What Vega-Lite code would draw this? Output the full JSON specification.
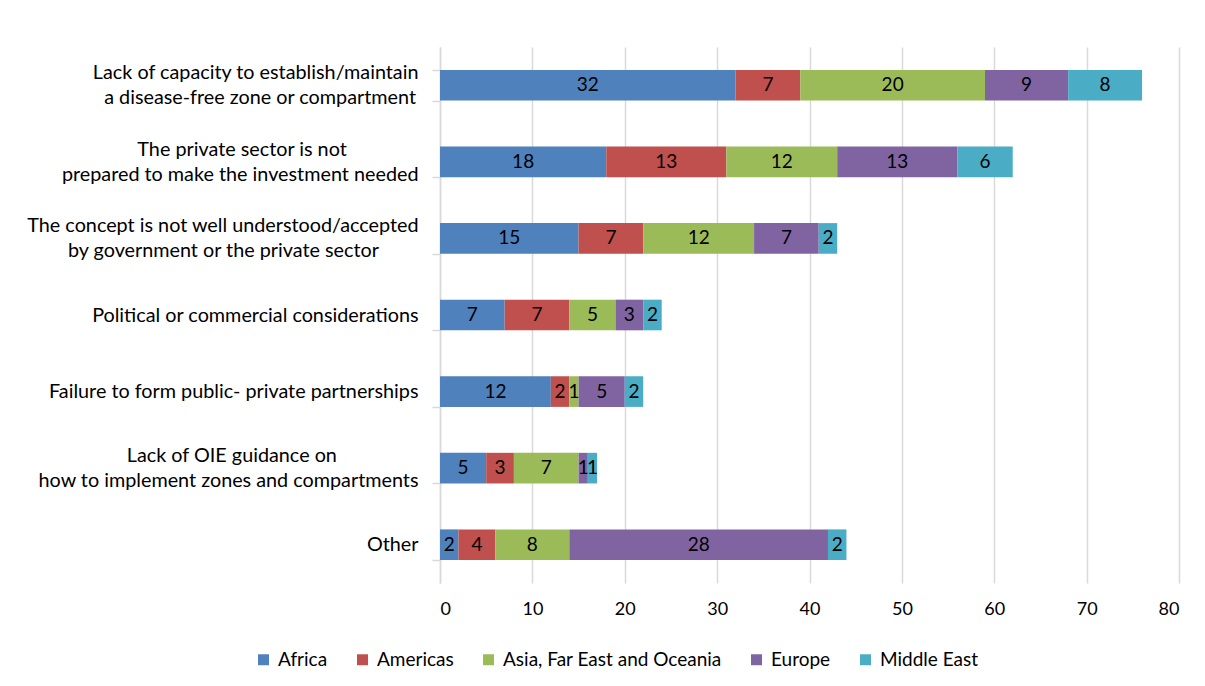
{
  "$schema": "https://vega.github.io/schema/vega-lite/v6.json",
  "width": 739,
  "height": 536,
  "autosize": {"type": "none"},
  "padding": {"left": 440, "top": 47, "right": 26, "bottom": 103},
  "background": "white",
  "config": {"view": {"stroke": null}, "font": "Lato"},
  "data": {"values": [
    {"cat": "Lack of capacity to establish/maintain|a disease-free zone or compartment\u2009\u200B", "region": "Africa", "o": 1, "v": 32},
    {"cat": "Lack of capacity to establish/maintain|a disease-free zone or compartment\u2009\u200B", "region": "Americas", "o": 2, "v": 7},
    {"cat": "Lack of capacity to establish/maintain|a disease-free zone or compartment\u2009\u200B", "region": "Asia, Far East and Oceania", "o": 3, "v": 20},
    {"cat": "Lack of capacity to establish/maintain|a disease-free zone or compartment\u2009\u200B", "region": "Europe", "o": 4, "v": 9},
    {"cat": "Lack of capacity to establish/maintain|a disease-free zone or compartment\u2009\u200B", "region": "Middle East", "o": 5, "v": 8},
    {"cat": "The private sector is not\u2002\u2002\u2002\u2002\u2002\u2002\u2002\u2009\u200B|prepared to make the investment needed", "region": "Africa", "o": 1, "v": 18},
    {"cat": "The private sector is not\u2002\u2002\u2002\u2002\u2002\u2002\u2002\u2009\u200B|prepared to make the investment needed", "region": "Americas", "o": 2, "v": 13},
    {"cat": "The private sector is not\u2002\u2002\u2002\u2002\u2002\u2002\u2002\u2009\u200B|prepared to make the investment needed", "region": "Asia, Far East and Oceania", "o": 3, "v": 12},
    {"cat": "The private sector is not\u2002\u2002\u2002\u2002\u2002\u2002\u2002\u2009\u200B|prepared to make the investment needed", "region": "Europe", "o": 4, "v": 13},
    {"cat": "The private sector is not\u2002\u2002\u2002\u2002\u2002\u2002\u2002\u2009\u200B|prepared to make the investment needed", "region": "Middle East", "o": 5, "v": 6},
    {"cat": "The concept is not well understood/accepted|by government or the private sector\u2002\u2002\u2002\u2002\u200B", "region": "Africa", "o": 1, "v": 15},
    {"cat": "The concept is not well understood/accepted|by government or the private sector\u2002\u2002\u2002\u2002\u200B", "region": "Americas", "o": 2, "v": 7},
    {"cat": "The concept is not well understood/accepted|by government or the private sector\u2002\u2002\u2002\u2002\u200B", "region": "Asia, Far East and Oceania", "o": 3, "v": 12},
    {"cat": "The concept is not well understood/accepted|by government or the private sector\u2002\u2002\u2002\u2002\u200B", "region": "Europe", "o": 4, "v": 7},
    {"cat": "The concept is not well understood/accepted|by government or the private sector\u2002\u2002\u2002\u2002\u200B", "region": "Middle East", "o": 5, "v": 2},
    {"cat": "Political or commercial considerations", "region": "Africa", "o": 1, "v": 7},
    {"cat": "Political or commercial considerations", "region": "Americas", "o": 2, "v": 7},
    {"cat": "Political or commercial considerations", "region": "Asia, Far East and Oceania", "o": 3, "v": 5},
    {"cat": "Political or commercial considerations", "region": "Europe", "o": 4, "v": 3},
    {"cat": "Political or commercial considerations", "region": "Middle East", "o": 5, "v": 2},
    {"cat": "Failure to form public- private partnerships", "region": "Africa", "o": 1, "v": 12},
    {"cat": "Failure to form public- private partnerships", "region": "Americas", "o": 2, "v": 2},
    {"cat": "Failure to form public- private partnerships", "region": "Asia, Far East and Oceania", "o": 3, "v": 1},
    {"cat": "Failure to form public- private partnerships", "region": "Europe", "o": 4, "v": 5},
    {"cat": "Failure to form public- private partnerships", "region": "Middle East", "o": 5, "v": 2},
    {"cat": "Lack of OIE guidance on\u2002\u2002\u2002\u2002\u2002\u2002\u2002\u2002\u2009\u200B|how to implement zones and compartments", "region": "Africa", "o": 1, "v": 5},
    {"cat": "Lack of OIE guidance on\u2002\u2002\u2002\u2002\u2002\u2002\u2002\u2002\u2009\u200B|how to implement zones and compartments", "region": "Americas", "o": 2, "v": 3},
    {"cat": "Lack of OIE guidance on\u2002\u2002\u2002\u2002\u2002\u2002\u2002\u2002\u2009\u200B|how to implement zones and compartments", "region": "Asia, Far East and Oceania", "o": 3, "v": 7},
    {"cat": "Lack of OIE guidance on\u2002\u2002\u2002\u2002\u2002\u2002\u2002\u2002\u2009\u200B|how to implement zones and compartments", "region": "Europe", "o": 4, "v": 1},
    {"cat": "Lack of OIE guidance on\u2002\u2002\u2002\u2002\u2002\u2002\u2002\u2002\u2009\u200B|how to implement zones and compartments", "region": "Middle East", "o": 5, "v": 1},
    {"cat": "Other", "region": "Africa", "o": 1, "v": 2},
    {"cat": "Other", "region": "Americas", "o": 2, "v": 4},
    {"cat": "Other", "region": "Asia, Far East and Oceania", "o": 3, "v": 8},
    {"cat": "Other", "region": "Europe", "o": 4, "v": 28},
    {"cat": "Other", "region": "Middle East", "o": 5, "v": 2}
  ]},
  "encoding": {
    "y": {
      "field": "cat", "type": "nominal", "sort": null,
      "scale": {"paddingInner": 0.6, "paddingOuter": 0.3},
      "axis": {
        "title": null,
        "labelExpr": "indexof(datum.label, '|') >= 0 ? [split(datum.label, '|')[0], '\u200B', split(datum.label, '|')[1]] : ['\u200B', datum.label]",
        "labelFont": "Lato", "labelFontSize": 19.8, "labelColor": "#000000",
        "labelAlign": "right", "labelPadding": 14, "labelLimit": 600, "labelLineHeight": 12.5,
        "labelOffset": -12.5,
        "tickBand": "extent", "tickSize": 8, "tickColor": "#d9d9d9", "tickWidth": 1.5,
        "domainColor": "#d9d9d9", "domainWidth": 1.5, "grid": false
      }
    }
  },
  "layer": [
    {
      "mark": {"type": "bar"},
      "encoding": {
        "x": {
          "field": "v", "type": "quantitative", "stack": "zero",
          "scale": {"domain": [0, 80]},
          "axis": {
            "title": null, "values": [0, 10, 20, 30, 40, 50, 60, 70, 80],
            "domain": false, "ticks": false, "labelPadding": 17,
            "labelFont": "Lato", "labelFontSize": 18, "labelColor": "#000000",
            "gridColor": "#d9d9d9", "gridWidth": 1.5
          }
        },
        "color": {
          "field": "region", "type": "nominal",
          "scale": {
            "domain": ["Africa", "Americas", "Asia, Far East and Oceania", "Europe", "Middle East"],
            "range": ["#4F81BD", "#C0504D", "#9BBB59", "#8064A2", "#4BACC6"]
          },
          "legend": {
            "title": null, "orient": "none", "direction": "horizontal",
            "legendX": -186, "legendY": 603,
            "symbolType": "square", "symbolSize": 120, "symbolStrokeWidth": 0,
            "labelFont": "Lato", "labelFontSize": 19, "labelColor": "#000000", "labelLimit": 400,
            "columnPadding": 25, "labelOffset": 5
          }
        },
        "order": {"field": "o", "type": "quantitative"}
      }
    },
    {
      "transform": [
        {"window": [{"op": "sum", "field": "v", "as": "cum"}], "groupby": ["cat"], "sort": [{"field": "o"}], "frame": [null, 0]},
        {"calculate": "datum.cum - datum.v / 2", "as": "mid"}
      ],
      "mark": {"type": "text", "font": "Lato", "fontSize": 19, "color": "#000000", "align": "center", "baseline": "middle"},
      "encoding": {
        "x": {"field": "mid", "type": "quantitative"},
        "text": {"field": "v", "type": "quantitative"}
      }
    }
  ]
}
